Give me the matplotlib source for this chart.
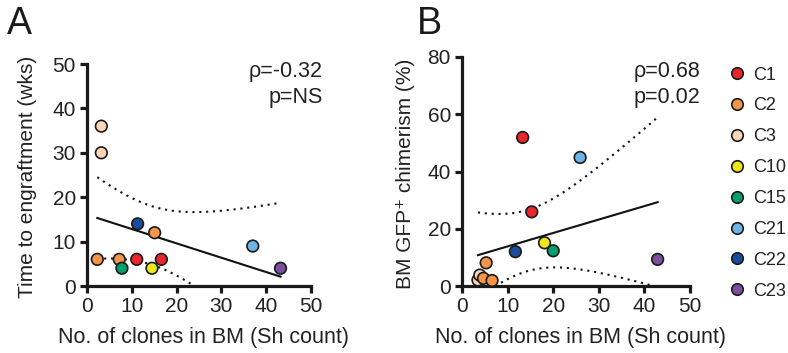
import numpy as np
import matplotlib
matplotlib.use("Agg")
import matplotlib.pyplot as plt
from matplotlib.lines import Line2D

plt.rcParams['font.family'] = ['Liberation Sans', 'DejaVu Sans']

# ---------------- data ----------------
groups = ["C1", "C2", "C3", "C10", "C15", "C21", "C22", "C23"]
group_colors = ["#E8262B", "#F5954A", "#FDD6B8", "#EEE71A", "#01A06E",
                "#6CB5E6", "#1A4C9C", "#7B4F9E"]

# Panel A: clones vs time to engraftment
a_group = ["C3", "C3", "C2", "C2", "C15", "C1", "C22", "C2", "C10", "C1", "C21", "C23"]
a_clones = [3.2, 3.2, 2.3, 7.2, 7.8, 11.1, 11.3, 15.1, 14.5, 16.6, 37.0, 43.2]
a_weeks = [36, 30, 6, 6, 4, 6, 14, 12, 4, 6, 9, 4]
a_stats = ["ρ=-0.32", "p=NS"]

# Panel B: clones vs BM GFP+ chimerism
b_group = ["C3", "C3", "C2", "C2", "C2", "C22", "C1", "C10", "C15", "C1", "C21", "C23"]
b_clones = [3.5, 3.9, 4.7, 6.6, 5.3, 11.7, 15.3, 18.1, 20.0, 13.3, 25.9, 42.9]
b_chim = [2.1, 3.8, 2.7, 1.9, 8.1, 12.0, 25.9, 15.1, 12.3, 51.9, 44.9, 9.3]
b_stats = ["ρ=0.68", "p=0.02"]

T_CRIT = 2.228  # two-sided 95% t critical value, df = n - 2 = 10

color_of = dict(zip(groups, group_colors))

W, H = 788, 353
fig = plt.figure(figsize=(W / 100, H / 100), dpi=100)
INK = "#1a1a1a"
TXT = "#222222"


def fit_band(x, y):
    x = np.asarray(x, float)
    y = np.asarray(y, float)
    n = len(x)
    slope, icpt = np.polyfit(x, y, 1)
    xs = np.linspace(x.min(), x.max(), 200)
    yhat = icpt + slope * xs
    resid = y - (icpt + slope * x)
    s = np.sqrt(np.sum(resid ** 2) / (n - 2))
    sxx = np.sum((x - x.mean()) ** 2)
    hw = T_CRIT * s * np.sqrt(1.0 / n + (xs - x.mean()) ** 2 / sxx)
    return xs, yhat, yhat - hw, yhat + hw


def style_axes(ax):
    for sp in ("top", "right"):
        ax.spines[sp].set_visible(False)
    for sp in ("left", "bottom"):
        ax.spines[sp].set_linewidth(2.3)
        ax.spines[sp].set_color(INK)
    ax.tick_params(direction="out", length=5, width=2.3, labelsize=15,
                   color=INK, labelcolor=TXT, pad=3)


def panel(rect, x, y, grp, ylim, yticks, ylabel, stats, stats_right,
          letter, letter_x, ylab_right):
    ax = fig.add_axes(rect)
    xs, yh, lo, hi = fit_band(x, y)
    ax.plot(xs, yh, color="#111111", lw=1.5, zorder=2)
    dots = (0, (1, 2.3))
    ax.plot(xs, hi, color="#111111", lw=1.5, ls=dots, zorder=2)
    ax.plot(xs, lo, color="#111111", lw=1.5, ls=dots, zorder=2)
    cols = [color_of[g] for g in grp]
    ax.scatter(x, y, s=70, c=cols, edgecolors=INK, linewidths=1.2,
               zorder=3, clip_on=False)
    ax.set_xlim(0, 50)
    ax.set_ylim(*ylim)
    ax.set_xticks([0, 10, 20, 30, 40, 50])
    ax.set_yticks(yticks)
    style_axes(ax)
    ax_left = rect[0] * W
    ax_w = rect[2] * W
    ax_h = rect[3] * H
    ax.set_xlabel("No. of clones in BM (Sh count)", fontsize=15.5, color=TXT)
    ax.xaxis.set_label_coords(0.52, -(327 - 286) / ax_h)
    ax.set_ylabel(ylabel, fontsize=15, color=TXT)
    ax.yaxis.set_label_coords((ylab_right - ax_left) / ax_w, 0.49)
    fig.text(stats_right / W, 1 - 77 / H, stats[0], ha="right",
             va="baseline", fontsize=15.5, color=TXT)
    fig.text(stats_right / W, 1 - 103 / H, stats[1], ha="right",
             va="baseline", fontsize=15.5, color=TXT)
    fig.text(letter_x / W, 1 - 6 / H, letter, fontsize=27, ha="left",
             va="top", color=INK)
    return ax


axA = panel([87 / W, 1 - 286 / H, (311 - 87) / W, (286 - 64) / H],
            a_clones, a_weeks, a_group, (0, 50), [0, 10, 20, 30, 40, 50],
            "Time to engraftment (wks)", a_stats, 323, "A", 7, 37)

axB = panel([462 / W, 1 - 286 / H, (690 - 462) / W, (286 - 57) / H],
            b_clones, b_chim, b_group, (0, 80), [0, 20, 40, 60, 80],
            "BM GFP⁺ chimerism (%)", b_stats, 700, "B", 417, 415)

# legend (manual, on the right)
for i, (g, c) in enumerate(zip(groups, group_colors)):
    yy = 1 - (73 + 30.9 * i) / H
    fig.add_artist(Line2D([737 / W], [yy], marker="o", ls="none",
                          markersize=8.3, markerfacecolor=c,
                          markeredgecolor=INK, markeredgewidth=1.2,
                          transform=fig.transFigure))
    fig.text(753 / W, yy, g, ha="left", va="center_baseline",
             fontsize=13, color=TXT)

fig.savefig("out.png", dpi=100)
